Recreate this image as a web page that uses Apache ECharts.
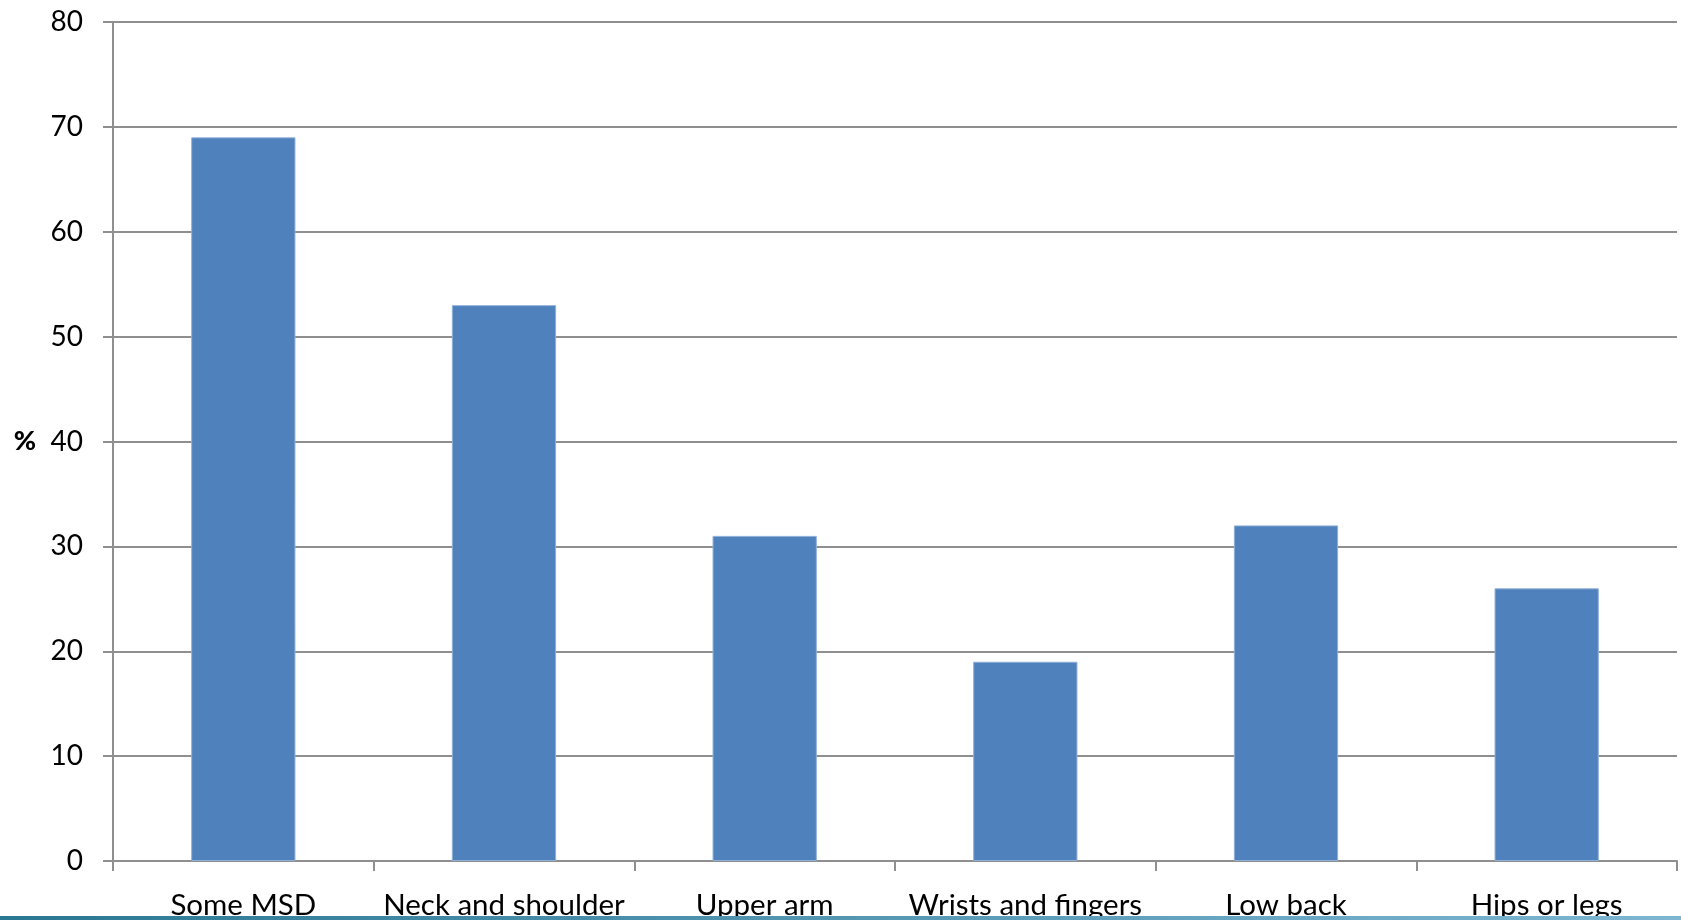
<!DOCTYPE html>
<html>
<head>
<meta charset="utf-8">
<style>
  html, body { margin: 0; padding: 0; background: #fff; }
  #chart { width: 1681px; height: 920px; }
</style>
<script src="https://cdn.jsdelivr.net/npm/echarts@6/dist/echarts.min.js"></script>
</head>
<body>
<div id="chart"></div>
<script>
// Share of respondents reporting musculoskeletal disorders, by body region
const categories = ['Some MSD', 'Neck and shoulder', 'Upper arm', 'Wrists and fingers', 'Low back', 'Hips or legs'];
const percentages = [69, 53, 31, 19, 32, 26];
const yTicks = { min: 0, max: 80, interval: 10 };

const axisGrey = '#8f8f8f';
const fontFamily = 'Lato, "Open Sans", sans-serif';

const chart = echarts.init(document.getElementById('chart'), null, { renderer: 'canvas' });

chart.setOption({
  animation: false,
  backgroundColor: '#ffffff',
  grid: { left: 113, right: 4, top: 22, bottom: 58, containLabel: false },
  xAxis: {
    type: 'category',
    data: categories,
    boundaryGap: true,
    axisLine: { show: true, lineStyle: { color: axisGrey, width: 2 } },
    axisTick: { show: true, length: 10, alignWithLabel: false, lineStyle: { color: axisGrey, width: 2 } },
    axisLabel: { color: '#000', fontSize: 29.5, fontFamily: fontFamily, margin: 29, interval: 0 },
    splitLine: { show: false }
  },
  yAxis: {
    type: 'value',
    min: yTicks.min,
    max: yTicks.max,
    interval: yTicks.interval,
    name: '%',
    nameLocation: 'middle',
    nameRotate: 0,
    nameGap: 77,
    nameTextStyle: { color: '#000', fontSize: 27, fontWeight: 900, fontFamily: fontFamily },
    axisLine: { show: true, lineStyle: { color: axisGrey, width: 2 } },
    axisTick: { show: true, length: 10, lineStyle: { color: axisGrey, width: 2 } },
    axisLabel: { color: '#000', fontSize: 28, fontFamily: fontFamily, margin: 30 },
    splitLine: { show: true, lineStyle: { color: axisGrey, width: 2 } }
  },
  series: [{
    type: 'bar',
    data: percentages,
    barWidth: '40%',
    itemStyle: { color: '#4F81BD', borderColor: '#8fb0d8', borderWidth: 1 }
  }],
  graphic: [{
    type: 'rect',
    left: 0,
    top: 916,
    z: 100,
    shape: { width: 1681, height: 4 },
    style: {
      fill: new echarts.graphic.LinearGradient(0, 0, 1, 0, [
        { offset: 0, color: '#2a7792' },
        { offset: 1, color: '#7db6d3' }
      ])
    }
  }]
});
</script>
</body>
</html>
